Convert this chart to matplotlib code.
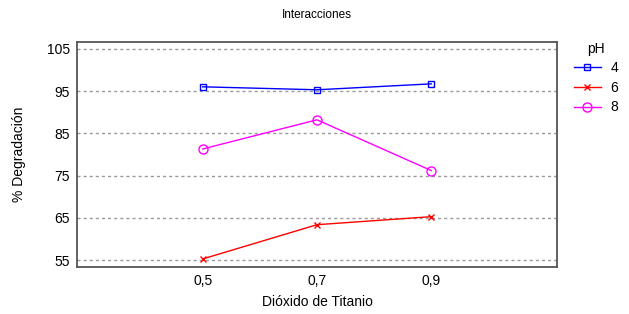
import matplotlib.pyplot as plt

plt.rcParams['font.family'] = ['Liberation Sans', 'DejaVu Sans']

tio2 = [0.5, 0.7, 0.9]
tio2_labels = ["0,5", "0,7", "0,9"]
ph_levels = ["4", "6", "8"]
deg_ph4 = [96.0, 95.3, 96.7]
deg_ph6 = [55.3, 63.4, 65.3]
deg_ph8 = [81.3, 88.2, 76.2]
y_ticks = [55, 65, 75, 85, 95, 105]

fig = plt.figure(figsize=(6.29, 3.14), dpi=100)
ax = fig.add_axes([0.1224, 0.1497, 0.763, 0.7166])

ax.plot(tio2, deg_ph4, color="#0000ff", lw=1, marker="s", ms=4.5, mfc="none", mew=1, label=ph_levels[0])
ax.plot(tio2, deg_ph6, color="#ff0000", lw=1, marker="x", ms=4.5, mew=1, label=ph_levels[1])
ax.plot(tio2, deg_ph8, color="#ff00ff", lw=1, marker="o", ms=6.5, mfc="none", mew=1, label=ph_levels[2])

ax.set_xlim(0.28, 1.12)
ax.set_ylim(53.4, 106.6)
ax.set_xticks(tio2)
ax.set_xticklabels(tio2_labels)
ax.set_yticks(y_ticks)
ax.tick_params(length=0, labelsize=10, pad=5)
ax.yaxis.grid(True, color="#999999", ls=(0, (2.2, 2.2)), lw=1)
ax.set_axisbelow(True)
for s in ax.spines.values():
    s.set_color("#555555")
    s.set_linewidth(1.3)

ax.set_title("Interacciones", fontsize=8.5, pad=17)
ax.set_xlabel("Dióxido de Titanio", fontsize=10, labelpad=5)
ax.set_ylabel("% Degradación", fontsize=10, labelpad=15)

ax.legend(title="pH", loc="upper left", bbox_to_anchor=(0.892, 0.907), bbox_transform=fig.transFigure,
          frameon=False, fontsize=10, title_fontsize=10, handlelength=1.95, handletextpad=0.7,
          labelspacing=0.4)

fig.savefig("out.png")
